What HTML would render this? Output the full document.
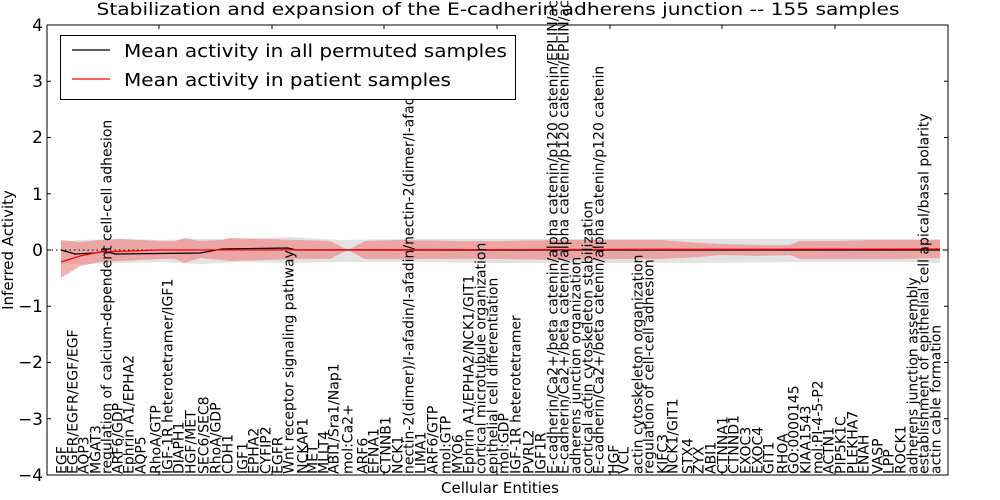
<!DOCTYPE html>
<html><head><meta charset="utf-8"><style>
html,body{margin:0;padding:0;background:#fff;}
svg{display:block;font-family:"DejaVu Sans","Liberation Sans",sans-serif;}
.xl{font-size:14px;fill:#000;}
</style></head><body>
<svg width="1000" height="500" viewBox="0 0 1000 500" xmlns="http://www.w3.org/2000/svg">
<rect width="1000" height="500" fill="#fff"/>
<text x="498" y="15" font-size="17" text-anchor="middle" textLength="803" lengthAdjust="spacingAndGlyphs">Stabilization and expansion of the E-cadherin adherens junction -- 155 samples</text>
<!-- gray band -->
<polygon fill="#d9d9d9" fill-opacity="0.75" points="61,242 80,240 120,239 160,240 200,239 240,239 290,237 340,240 400,239 500,239 600,239 700,239 800,239 900,239 940,239 940,263 900,262 800,262 700,263 600,263 500,263 400,262 340,262 290,263 240,262 200,264 160,262 120,263 80,264 61,264"/>
<!-- red band -->
<polygon fill="#f08080" fill-opacity="0.62" points="61,240 80,242 100,240 120,239 160,241 175,241 185,238 200,241 222,240 230,238 300,240 330,241 348,250 365,241 400,240 460,241 500,241 560,240 620,240 660,240 700,243 720,244 760,245 790,245 800,241 840,241 870,240 900,240 940,240 940,258 900,259 870,259 840,259 800,259 790,255 760,256 720,255 700,257 660,259 620,259 560,260 500,259 460,259 400,259 365,259 348,250 330,259 300,259 230,261 222,260 200,258 185,263 175,259 160,259 120,261 100,262 80,266 61,278"/>
<!-- dotted zero -->
<line x1="47" y1="250" x2="948" y2="250" stroke="#000" stroke-width="1" stroke-dasharray="1.5,3"/>
<!-- black line -->
<polyline fill="none" stroke="#000" stroke-width="1.2" points="61,250 75,254 95,253 106,251 115,254 200,253 222,249 288,248 296,250 940,250"/>
<!-- red line -->
<polyline fill="none" stroke="#f00" stroke-width="1.2" points="61,262 80,256 100,252 130,251 160,250 940,249"/>
<!-- axes -->
<rect x="47" y="25" width="901" height="450" fill="none" stroke="#000" stroke-width="1"/>
<g stroke="#000" stroke-width="1">
<line x1="47" y1="81.25" x2="51" y2="81.25"/><line x1="47" y1="137.5" x2="51" y2="137.5"/><line x1="47" y1="193.75" x2="51" y2="193.75"/><line x1="47" y1="250" x2="51" y2="250"/><line x1="47" y1="306.25" x2="51" y2="306.25"/><line x1="47" y1="362.5" x2="51" y2="362.5"/><line x1="47" y1="418.75" x2="51" y2="418.75"/>
<line x1="944" y1="81.25" x2="948" y2="81.25"/><line x1="944" y1="137.5" x2="948" y2="137.5"/><line x1="944" y1="193.75" x2="948" y2="193.75"/><line x1="944" y1="250" x2="948" y2="250"/><line x1="944" y1="306.25" x2="948" y2="306.25"/><line x1="944" y1="362.5" x2="948" y2="362.5"/><line x1="944" y1="418.75" x2="948" y2="418.75"/>
<line x1="159" y1="25" x2="159" y2="29"/><line x1="272" y1="25" x2="272" y2="29"/><line x1="384" y1="25" x2="384" y2="29"/><line x1="497" y1="25" x2="497" y2="29"/><line x1="610" y1="25" x2="610" y2="29"/><line x1="722" y1="25" x2="722" y2="29"/><line x1="835" y1="25" x2="835" y2="29"/>
<line x1="159" y1="475" x2="159" y2="471"/><line x1="272" y1="475" x2="272" y2="471"/><line x1="384" y1="475" x2="384" y2="471"/><line x1="497" y1="475" x2="497" y2="471"/><line x1="610" y1="475" x2="610" y2="471"/><line x1="722" y1="475" x2="722" y2="471"/><line x1="835" y1="475" x2="835" y2="471"/>
</g>
<g font-size="17" text-anchor="end">
<text x="43" y="31">4</text><text x="43" y="87">3</text><text x="43" y="143">2</text><text x="43" y="200">1</text><text x="43" y="256">0</text><text x="43" y="312">−1</text><text x="43" y="368">−2</text><text x="43" y="425">−3</text><text x="43" y="481">−4</text>
</g>
<text x="500" y="493" font-size="15" text-anchor="middle">Cellular Entities</text>
<text transform="translate(13,250) rotate(-90)" font-size="15" text-anchor="middle">Inferred Activity</text>
<!-- x labels -->
<g class="xl">
<text transform="translate(66.5,474) rotate(-90)">EGF</text>
<text transform="translate(77.5,474) rotate(-90)">EGFR/EGFR/EGF/EGF</text>
<text transform="translate(88.5,474) rotate(-90)">AQP3</text>
<text transform="translate(100.5,474) rotate(-90)">MGAT3</text>
<text transform="translate(111.5,474) rotate(-90)">regulation of calcium-dependent cell-cell adhesion</text>
<text transform="translate(122.5,474) rotate(-90)">ARF6/GDP</text>
<text transform="translate(133.5,474) rotate(-90)">Ephrin A1/EPHA2</text>
<text transform="translate(145.5,474) rotate(-90)">AQP5</text>
<text transform="translate(160.5,474) rotate(-90)">RhoA/GTP</text>
<text transform="translate(172.5,474) rotate(-90)">IGF-1R heterotetramer/IGF1</text>
<text transform="translate(183.5,474) rotate(-90)">DIAPH1</text>
<text transform="translate(195.5,474) rotate(-90)">HGF/MET</text>
<text transform="translate(208.5,474) rotate(-90)">SEC6/SEC8</text>
<text transform="translate(220.5,474) rotate(-90)">RhoA/GDP</text>
<text transform="translate(232.5,474) rotate(-90)">CDH1</text>
<text transform="translate(247.5,474) rotate(-90)">IGF1</text>
<text transform="translate(258.5,474) rotate(-90)">EPHA2</text>
<text transform="translate(270.5,474) rotate(-90)">CYFIP2</text>
<text transform="translate(282.5,474) rotate(-90)">EGFR</text>
<text transform="translate(293.5,474) rotate(-90)">Wnt receptor signaling pathway</text>
<text transform="translate(307.5,474) rotate(-90)">NCKAP1</text>
<text transform="translate(317.5,474) rotate(-90)">MET</text>
<text transform="translate(328.5,474) rotate(-90)">MLLT4</text>
<text transform="translate(338.5,474) rotate(-90)">ABI1/Sra1/Nap1</text>
<text transform="translate(352.5,474) rotate(-90)">mol:Ca2+</text>
<text transform="translate(367.5,474) rotate(-90)">ARF6</text>
<text transform="translate(378.5,474) rotate(-90)">EFNA1</text>
<text transform="translate(390.5,474) rotate(-90)">CTNNB1</text>
<text transform="translate(402.5,474) rotate(-90)">NCK1</text>
<text transform="translate(413.5,474) rotate(-90)">nectin-2(dimer)/I-afadin/I-afadin/nectin-2(dimer/I-afad</text>
<text transform="translate(425.5,474) rotate(-90)">LIMA1</text>
<text transform="translate(437.5,474) rotate(-90)">ARF6/GTP</text>
<text transform="translate(450.5,474) rotate(-90)">mol:GTP</text>
<text transform="translate(462.5,474) rotate(-90)">MYO6</text>
<text transform="translate(473.5,474) rotate(-90)">Ephrin A1/EPHA2/NCK1/GIT1</text>
<text transform="translate(485.5,474) rotate(-90)">cortical microtubule organization</text>
<text transform="translate(497.5,474) rotate(-90)">epithelial cell differentiation</text>
<text transform="translate(508.5,474) rotate(-90)">mol:GDP</text>
<text transform="translate(520.5,474) rotate(-90)">IGF-1R heterotetramer</text>
<text transform="translate(533.5,474) rotate(-90)">PVRL2</text>
<text transform="translate(545.5,474) rotate(-90)">IGF1R</text>
<text transform="translate(557.5,474) rotate(-90)">E-cadherin/Ca2+/beta catenin/alpha catenin/p120 catenin/EPLIN/actin</text>
<text transform="translate(568.5,474) rotate(-90)">E-cadherin/Ca2+/beta catenin/alpha catenin/p120 catenin/EPLIN/actin</text>
<text transform="translate(580.5,474) rotate(-90)">adherens junction organization</text>
<text transform="translate(592.5,474) rotate(-90)">cortical actin cytoskeleton stabilization</text>
<text transform="translate(603.5,474) rotate(-90)">E-cadherin/Ca2+/beta catenin/alpha catenin/p120 catenin</text>
<text transform="translate(618.5,474) rotate(-90)">HGF</text>
<text transform="translate(628.5,474) rotate(-90)">VCL</text>
<text transform="translate(642.5,474) rotate(-90)">actin cytoskeleton organization</text>
<text transform="translate(653.5,474) rotate(-90)">regulation of cell-cell adhesion</text>
<text transform="translate(667.5,474) rotate(-90)">KIFC3</text>
<text transform="translate(677.5,474) rotate(-90)">NCK1/GIT1</text>
<text transform="translate(692.5,474) rotate(-90)">STX4</text>
<text transform="translate(703.5,474) rotate(-90)">ZYX</text>
<text transform="translate(715.5,474) rotate(-90)">ABI1</text>
<text transform="translate(727.5,474) rotate(-90)">CTNNA1</text>
<text transform="translate(738.5,474) rotate(-90)">CTNND1</text>
<text transform="translate(750.5,474) rotate(-90)">EXOC3</text>
<text transform="translate(762.5,474) rotate(-90)">EXOC4</text>
<text transform="translate(773.5,474) rotate(-90)">GIT1</text>
<text transform="translate(787.5,474) rotate(-90)">RHOA</text>
<text transform="translate(798.5,474) rotate(-90)">GO:0000145</text>
<text transform="translate(810.5,474) rotate(-90)">KIAA1543</text>
<text transform="translate(822.5,474) rotate(-90)">mol:PI-4-5-P2</text>
<text transform="translate(833.5,474) rotate(-90)">ACTN1</text>
<text transform="translate(845.5,474) rotate(-90)">PIP5K1C</text>
<text transform="translate(857.5,474) rotate(-90)">PLEKHA7</text>
<text transform="translate(868.5,474) rotate(-90)">ENAH</text>
<text transform="translate(882.5,474) rotate(-90)">VASP</text>
<text transform="translate(893.5,474) rotate(-90)">LPP</text>
<text transform="translate(905.5,474) rotate(-90)">ROCK1</text>
<text transform="translate(917.5,474) rotate(-90)">adherens junction assembly</text>
<text transform="translate(928.5,474) rotate(-90)">establishment of epithelial cell apical/basal polarity</text>
<text transform="translate(940.5,474) rotate(-90)">actin cable formation</text>
</g>
<!-- legend -->
<rect x="60.5" y="35.5" width="455" height="64" fill="#fff" stroke="#000" stroke-width="1"/>
<line x1="72" y1="50" x2="110" y2="50" stroke="#000" stroke-width="1.2"/>
<line x1="72" y1="79" x2="110" y2="79" stroke="#f00" stroke-width="1.2"/>
<text x="124" y="57" font-size="18" textLength="383" lengthAdjust="spacingAndGlyphs">Mean activity in all permuted samples</text>
<text x="124" y="86" font-size="18" textLength="327" lengthAdjust="spacingAndGlyphs">Mean activity in patient samples</text>
</svg>
</body></html>
